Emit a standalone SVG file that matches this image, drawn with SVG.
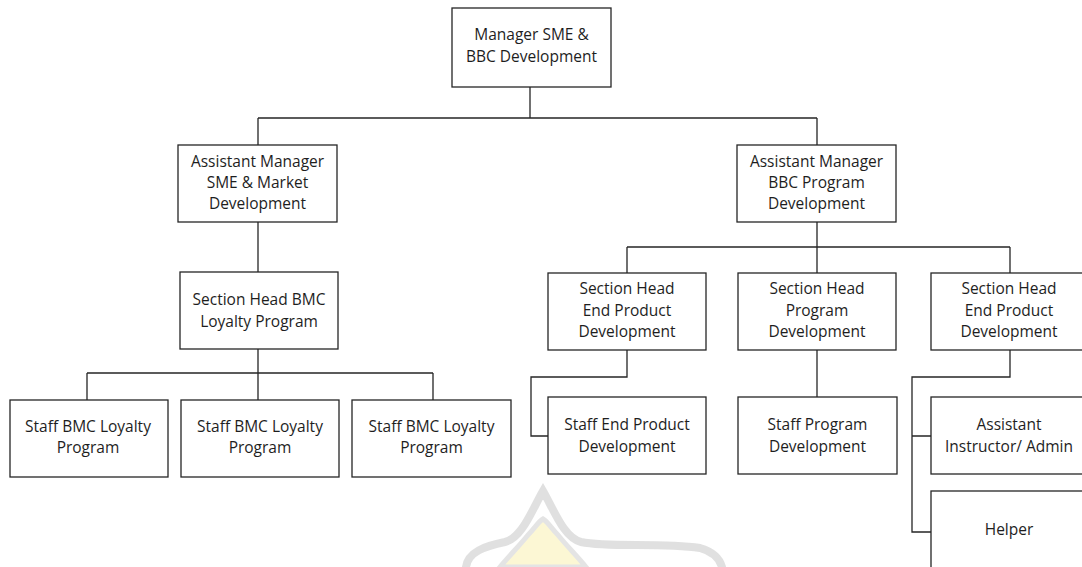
<svg xmlns="http://www.w3.org/2000/svg" width="1082" height="567" viewBox="0 0 1082 567">
<style>
.box{fill:#fff;stroke:#262626;stroke-width:1.3}
.t{font-family:"Open Sans","Noto Sans","Liberation Sans",sans-serif;font-size:15.5px;fill:#1e1e1e;text-anchor:middle}
.c{fill:none;stroke:#262626;stroke-width:1.3}
.wm1{fill:none;stroke:#d6d6d6;stroke-width:8;stroke-linecap:round;opacity:0.75}
.wm2{fill:#fcf5c6;stroke:#dcdcdc;stroke-width:5;opacity:0.75}
</style>
<rect width="1082" height="567" fill="#fff"/>
<g id="watermark">
<path class="wm2" d="M500 567 C510 555 520 545 528 535 C535 528 538 522 543 519 C548 522 551 528 558 535 C566 545 576 555 586 567 Z"/>
<path class="wm1" d="M466 567 C468 552 485 546 505 542 C522 538 532 510 543 491 C554 510 564 538 581 542 C610 548 660 542 700 548 C714 552 720 560 722 567"/>
</g>
<g id="connectors">
<path class="c" d="M530 87 V118 M258 118 H817 M258 118 V145 M817 118 V145"/>
<path class="c" d="M258 222 V272"/>
<path class="c" d="M258 349 V373 M87 373 H433 M87 373 V400 M258 373 V400 M433 373 V400"/>
<path class="c" d="M817 222 V273 M627 247 H1010 M627 247 V273 M1010 247 V273"/>
<path class="c" d="M627 350 V377 H531 V436 H548"/>
<path class="c" d="M817 350 V397"/>
<path class="c" d="M1010 350 V377 H912 V532 H931 M912 436 H931"/>
</g>
<g id="n-manager"><rect class="box" x="452" y="8" width="159" height="79"/><text class="t" x="531.5" y="40">Manager SME &amp;</text><text class="t" x="531.5" y="62">BBC Development</text></g>
<g id="n-am-sme"><rect class="box" x="178" y="145" width="159" height="77"/><text class="t" x="257.5" y="167">Assistant Manager</text><text class="t" x="257.5" y="188">SME &amp; Market</text><text class="t" x="257.5" y="209">Development</text></g>
<g id="n-am-bbc"><rect class="box" x="737" y="145" width="159" height="77"/><text class="t" x="816.5" y="167">Assistant Manager</text><text class="t" x="816.5" y="188">BBC Program</text><text class="t" x="816.5" y="209">Development</text></g>
<g id="n-sh-bmc"><rect class="box" x="180" y="272" width="158" height="77"/><text class="t" x="259" y="305">Section Head BMC</text><text class="t" x="259" y="327">Loyalty Program</text></g>
<g id="n-staff-bmc1"><rect class="box" x="10" y="400" width="158" height="77"/><text class="t" x="88" y="432">Staff BMC Loyalty</text><text class="t" x="88" y="453">Program</text></g>
<g id="n-staff-bmc2"><rect class="box" x="181" y="400" width="158" height="77"/><text class="t" x="260" y="432">Staff BMC Loyalty</text><text class="t" x="260" y="453">Program</text></g>
<g id="n-staff-bmc3"><rect class="box" x="352" y="400" width="159" height="77"/><text class="t" x="431.5" y="432">Staff BMC Loyalty</text><text class="t" x="431.5" y="453">Program</text></g>
<g id="n-sh-end1"><rect class="box" x="548" y="273" width="158" height="77"/><text class="t" x="627" y="294">Section Head</text><text class="t" x="627" y="315.5">End Product</text><text class="t" x="627" y="337">Development</text></g>
<g id="n-sh-prog"><rect class="box" x="738" y="273" width="158" height="77"/><text class="t" x="817" y="294">Section Head</text><text class="t" x="817" y="315.5">Program</text><text class="t" x="817" y="337">Development</text></g>
<g id="n-sh-end2"><rect class="box" x="931" y="273" width="158" height="77"/><text class="t" x="1009" y="294">Section Head</text><text class="t" x="1009" y="315.5">End Product</text><text class="t" x="1009" y="337">Development</text></g>
<g id="n-staff-end"><rect class="box" x="548" y="397" width="158" height="77"/><text class="t" x="627" y="430">Staff End Product</text><text class="t" x="627" y="452">Development</text></g>
<g id="n-staff-prog"><rect class="box" x="738" y="397" width="159" height="77"/><text class="t" x="817.5" y="430">Staff Program</text><text class="t" x="817.5" y="452">Development</text></g>
<g id="n-asst-instr"><rect class="box" x="931" y="397" width="158" height="77"/><text class="t" x="1009" y="430">Assistant</text><text class="t" x="1009" y="452">Instructor/ Admin</text></g>
<g id="n-helper"><rect class="box" x="931" y="491" width="158" height="90"/><text class="t" x="1009" y="535">Helper</text></g>
</svg>
